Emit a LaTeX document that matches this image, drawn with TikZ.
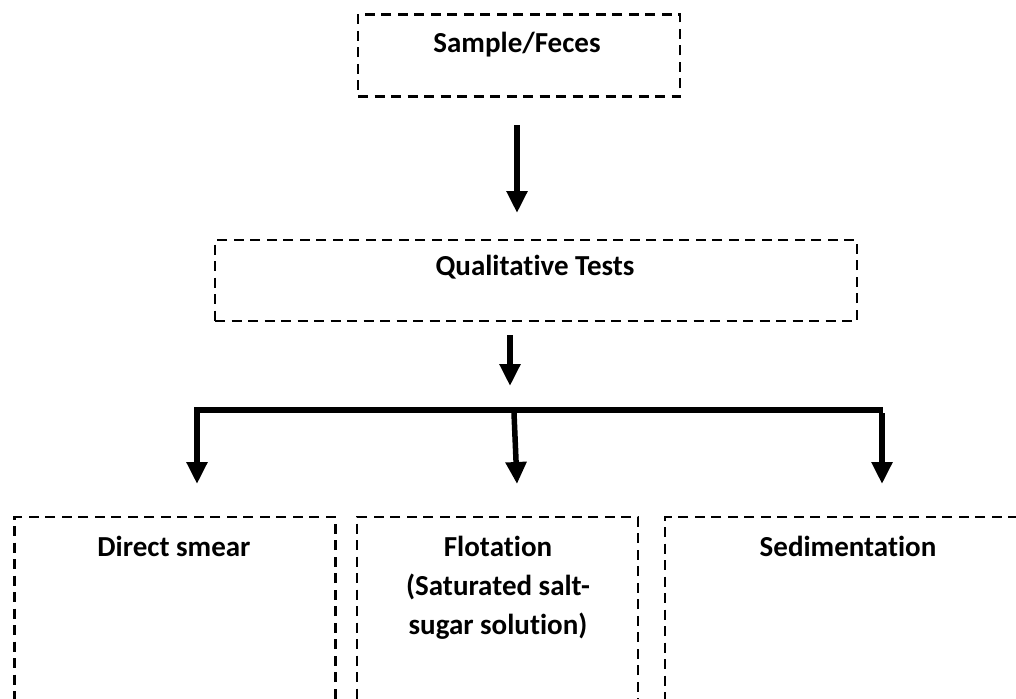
\documentclass[tikz,border=0pt]{standalone}
\usepackage{fontspec}
\setmainfont{Carlito}[Ligatures=NoCommon]
\usetikzlibrary{arrows.meta}
\begin{document}
\begin{tikzpicture}[x=1pt,y=-1pt,
  box/.style={draw, line width=2.5pt, dash pattern=on 10pt off 6.5pt, rectangle, inner sep=0pt},
  lbl/.style={font=\fontsize{29}{39}\selectfont\bfseries, align=center, inner sep=0pt},
  arr/.style={line width=5.5pt, -{Triangle[width=20pt,length=22pt]}},
  barline/.style={line width=6pt}]
\clip (0,0) rectangle (1016,698);
% top boxes
\node[box, minimum width=322pt, minimum height=82pt] (sample) at (519,55.5) {};
\node[lbl, anchor=base] (samplet) at (517,53) {Sample/Feces};
\node[box, minimum width=642pt, minimum height=81pt] (qual) at (536,280.5) {};
\node[lbl, anchor=base] (qualt) at (535,275) {Qualitative Tests};
% bottom boxes
\node[box, minimum width=321pt, minimum height=240pt] (direct) at (175,637) {};
\node[box, minimum width=281pt, minimum height=240pt] (flot) at (497.5,637) {};
\node[box, minimum width=370pt, minimum height=240pt] (sedi) at (850,637) {};
\node[lbl, anchor=base] (directt) at (174,556) {Direct smear};
\node[lbl, anchor=base] (flott) at (498,634) {Flotation\\(Saturated salt-\\sugar solution)};
\node[lbl, anchor=base] (sedit) at (848,556) {Sedimentation};
% connectors
\coordinate (a1s) at (517,125);
\coordinate (a1e) at (517,213);
\coordinate (a2s) at (510,335);
\coordinate (a2e) at (510,386);
\coordinate (bl) at (197,410);
\coordinate (bm) at (514,410);
\coordinate (br) at (882,410);
\coordinate (el) at (197,484);
\coordinate (em) at (517,484);
\coordinate (er) at (882,484);
\draw[barline] ([xshift=-3pt]bl) -- ([xshift=1pt]br);
\draw[arr] ([yshift=-3pt]bl) -- (el);
\draw[arr] ([yshift=-3pt]bm) -- (em);
\draw[arr] ([yshift=-3pt]br) -- (er);
\draw[arr] (a1s) -- (a1e);
\draw[arr] (a2s) -- (a2e);
\end{tikzpicture}
\end{document}
